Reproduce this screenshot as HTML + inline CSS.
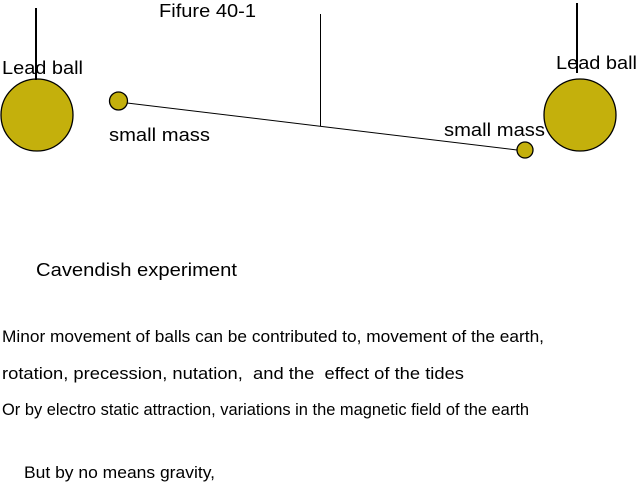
<!DOCTYPE html>
<html><head><style>html,body{margin:0;padding:0;background:#fff}svg{display:block}</style></head>
<body>
<svg width="640" height="485" xmlns="http://www.w3.org/2000/svg" font-family="Liberation Sans, sans-serif" fill="#000">
<g stroke="#000" stroke-width="2">
<line x1="36" y1="8" x2="36" y2="80"/>
<line x1="577" y1="3" x2="577" y2="73"/>
</g>
<g stroke="#000" stroke-width="1">
<line x1="320.5" y1="14" x2="320.5" y2="126"/>
<line x1="127" y1="103" x2="517" y2="150"/>
</g>
<g fill="#c4b00c" stroke="#000" stroke-width="1.3">
<circle cx="37" cy="115" r="36"/>
<circle cx="580" cy="115" r="36"/>
<circle cx="118.5" cy="101" r="9"/>
<circle cx="525" cy="150" r="8"/>
</g>
<line x1="577" y1="50" x2="577" y2="73" stroke="#000" stroke-width="2"/>
<line x1="36" y1="60" x2="36" y2="80" stroke="#000" stroke-width="2"/>
<g font-size="18">
<text x="159" y="17" textLength="97" lengthAdjust="spacingAndGlyphs">Fifure 40-1</text>
<text x="2" y="74" textLength="81" lengthAdjust="spacingAndGlyphs">Lead ball</text>
<text x="556" y="69" textLength="81" lengthAdjust="spacingAndGlyphs">Lead ball</text>
<text x="109" y="141" textLength="101" lengthAdjust="spacingAndGlyphs">small mass</text>
<text x="444" y="136" textLength="101" lengthAdjust="spacingAndGlyphs">small mass</text>
<text x="36" y="276" textLength="201" lengthAdjust="spacingAndGlyphs">Cavendish experiment</text>
</g>
<g font-size="17">
<text x="2" y="342" textLength="542" lengthAdjust="spacingAndGlyphs">Minor movement of balls can be contributed to, movement of the earth,</text>
<text x="2" y="379" textLength="462" lengthAdjust="spacingAndGlyphs" xml:space="preserve">rotation, precession, nutation,  and the  effect of the tides</text>
<text x="2" y="415" textLength="527" lengthAdjust="spacingAndGlyphs">Or by electro static attraction, variations in the magnetic field of the earth</text>
<text x="24" y="478" textLength="191" lengthAdjust="spacingAndGlyphs">But by no means gravity,</text>
</g>
</svg>
</body></html>
